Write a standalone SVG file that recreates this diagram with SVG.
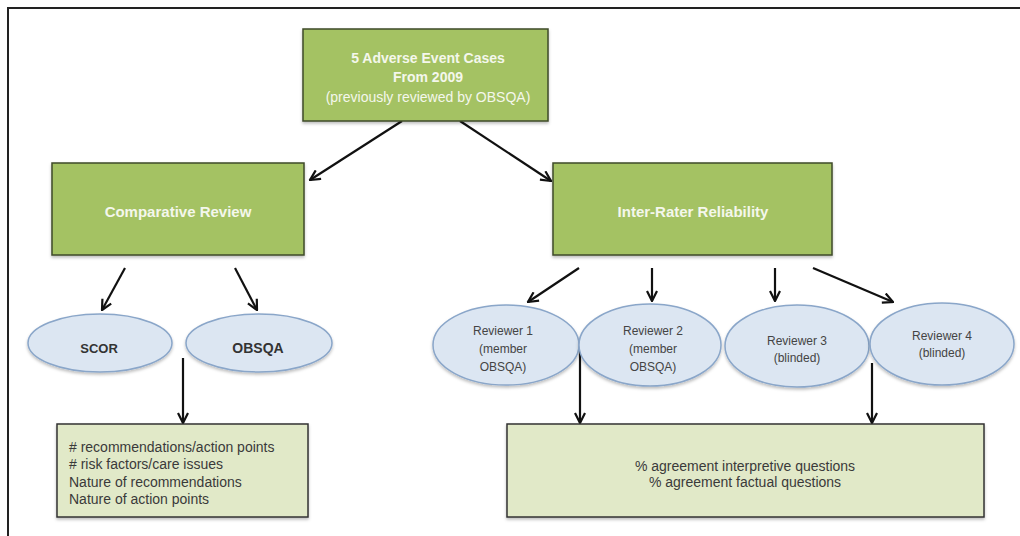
<svg xmlns="http://www.w3.org/2000/svg" width="1020" height="536" viewBox="0 0 1020 536">
<defs>
<marker id="arr" viewBox="0 0 12 12" refX="11" refY="6" markerWidth="12" markerHeight="12" markerUnits="userSpaceOnUse" orient="auto">
<polyline points="1,1 11,6 1,11" fill="none" stroke="#111" stroke-width="2.2" stroke-linejoin="miter"/>
</marker>
<filter id="sh" x="-10%" y="-10%" width="120%" height="130%">
<feDropShadow dx="0" dy="2" stdDeviation="1.5" flood-color="#000" flood-opacity="0.25"/>
</filter>
</defs>
<style>
.g{fill:#a4c263;stroke:#3f4a2a;stroke-width:1.5;filter:url(#sh)}
.e{fill:#dce6f2;stroke:#8aa6c9;stroke-width:1.5;filter:url(#sh)}
.b{fill:#e1e9c8;stroke:#333;stroke-width:1.5;filter:url(#sh)}
.wt{font-family:"Liberation Sans",Arial,sans-serif;fill:#f4f7ec;font-size:14px;text-anchor:middle}
.bold{font-weight:bold}
.et{font-family:"Liberation Sans",Arial,sans-serif;fill:#444;font-size:12px;text-anchor:middle}
.bt{font-family:"Liberation Sans",Arial,sans-serif;fill:#3a3a3a;font-size:14px}
.c{stroke:#111;stroke-width:2.2;fill:none}
</style>
<rect width="1020" height="536" fill="#fff"/>
<line x1="8" y1="8" x2="1020" y2="8" stroke="#222" stroke-width="2"/>
<line x1="8" y1="7" x2="8" y2="536" stroke="#222" stroke-width="2"/>

<g id="connectors">
<line class="c" x1="402" y1="121" x2="310" y2="180" marker-end="url(#arr)"/>
<line class="c" x1="460" y1="121" x2="551" y2="181" marker-end="url(#arr)"/>
<line class="c" x1="125" y1="268" x2="102" y2="310" marker-end="url(#arr)"/>
<line class="c" x1="235" y1="268" x2="257" y2="310" marker-end="url(#arr)"/>
<line class="c" x1="183" y1="358" x2="183" y2="423" marker-end="url(#arr)"/>
<line class="c" x1="579" y1="268" x2="528" y2="302" marker-end="url(#arr)"/>
<line class="c" x1="652" y1="268" x2="652" y2="301" marker-end="url(#arr)"/>
<line class="c" x1="775" y1="268" x2="775" y2="301" marker-end="url(#arr)"/>
<line class="c" x1="813" y1="268" x2="893" y2="302" marker-end="url(#arr)"/>
<line class="c" x1="580" y1="347" x2="580" y2="423" marker-end="url(#arr)"/>
<line class="c" x1="872" y1="363" x2="872" y2="423" marker-end="url(#arr)"/>
</g>

<g id="top">
<rect class="g" x="303" y="29" width="245" height="92"/>
<text class="wt bold" x="428" y="63">5 Adverse Event Cases</text>
<text class="wt bold" x="428" y="82">From 2009</text>
<text class="wt" x="428" y="102">(previously reviewed by OBSQA)</text>
</g>

<g id="comparative">
<rect class="g" x="52" y="163" width="252" height="92"/>
<text class="wt bold" x="178" y="217" style="font-size:15px">Comparative Review</text>
</g>

<g id="interrater">
<rect class="g" x="553" y="163" width="279" height="92"/>
<text class="wt bold" x="693" y="217" style="font-size:15px">Inter-Rater Reliability</text>
</g>

<g id="scor">
<ellipse class="e" cx="100" cy="343" rx="72" ry="29"/>
<text class="et bold" x="99" y="353" style="font-size:13px;fill:#333">SCOR</text>
</g>

<g id="obsqa">
<ellipse class="e" cx="259" cy="343" rx="73" ry="29"/>
<text class="et bold" x="258" y="353" style="font-size:14px;fill:#333">OBSQA</text>
</g>

<g id="reviewer1">
<ellipse class="e" cx="506" cy="345" rx="73" ry="40"/>
<text class="et" x="503" y="335">Reviewer 1</text>
<text class="et" x="503" y="353">(member</text>
<text class="et" x="503" y="371">OBSQA)</text>
</g>

<g id="reviewer2">
<ellipse class="e" cx="650" cy="345" rx="71" ry="41"/>
<text class="et" x="653" y="335">Reviewer 2</text>
<text class="et" x="653" y="353">(member</text>
<text class="et" x="653" y="371">OBSQA)</text>
</g>

<g id="reviewer3">
<ellipse class="e" cx="797" cy="346" rx="72" ry="41"/>
<text class="et" x="797" y="345">Reviewer 3</text>
<text class="et" x="797" y="362">(blinded)</text>
</g>

<g id="reviewer4">
<ellipse class="e" cx="942" cy="344" rx="72" ry="41"/>
<text class="et" x="942" y="340">Reviewer 4</text>
<text class="et" x="942" y="357">(blinded)</text>
</g>

<g id="measures-left">
<rect class="b" x="57" y="424" width="251" height="93"/>
<text class="bt" x="69" y="452">
<tspan x="69">#&#160;recommendations/action points</tspan>
<tspan x="69" dy="17.3">#&#160;risk factors/care issues</tspan>
<tspan x="69" dy="17.3">Nature of recommendations</tspan>
<tspan x="69" dy="17.3">Nature of action points</tspan>
</text>
</g>

<g id="measures-right">
<rect class="b" x="507" y="424" width="477" height="93"/>
<text class="bt" x="745" y="471" text-anchor="middle">% agreement interpretive questions</text>
<text class="bt" x="745" y="487" text-anchor="middle">% agreement factual questions</text>
</g>
</svg>
